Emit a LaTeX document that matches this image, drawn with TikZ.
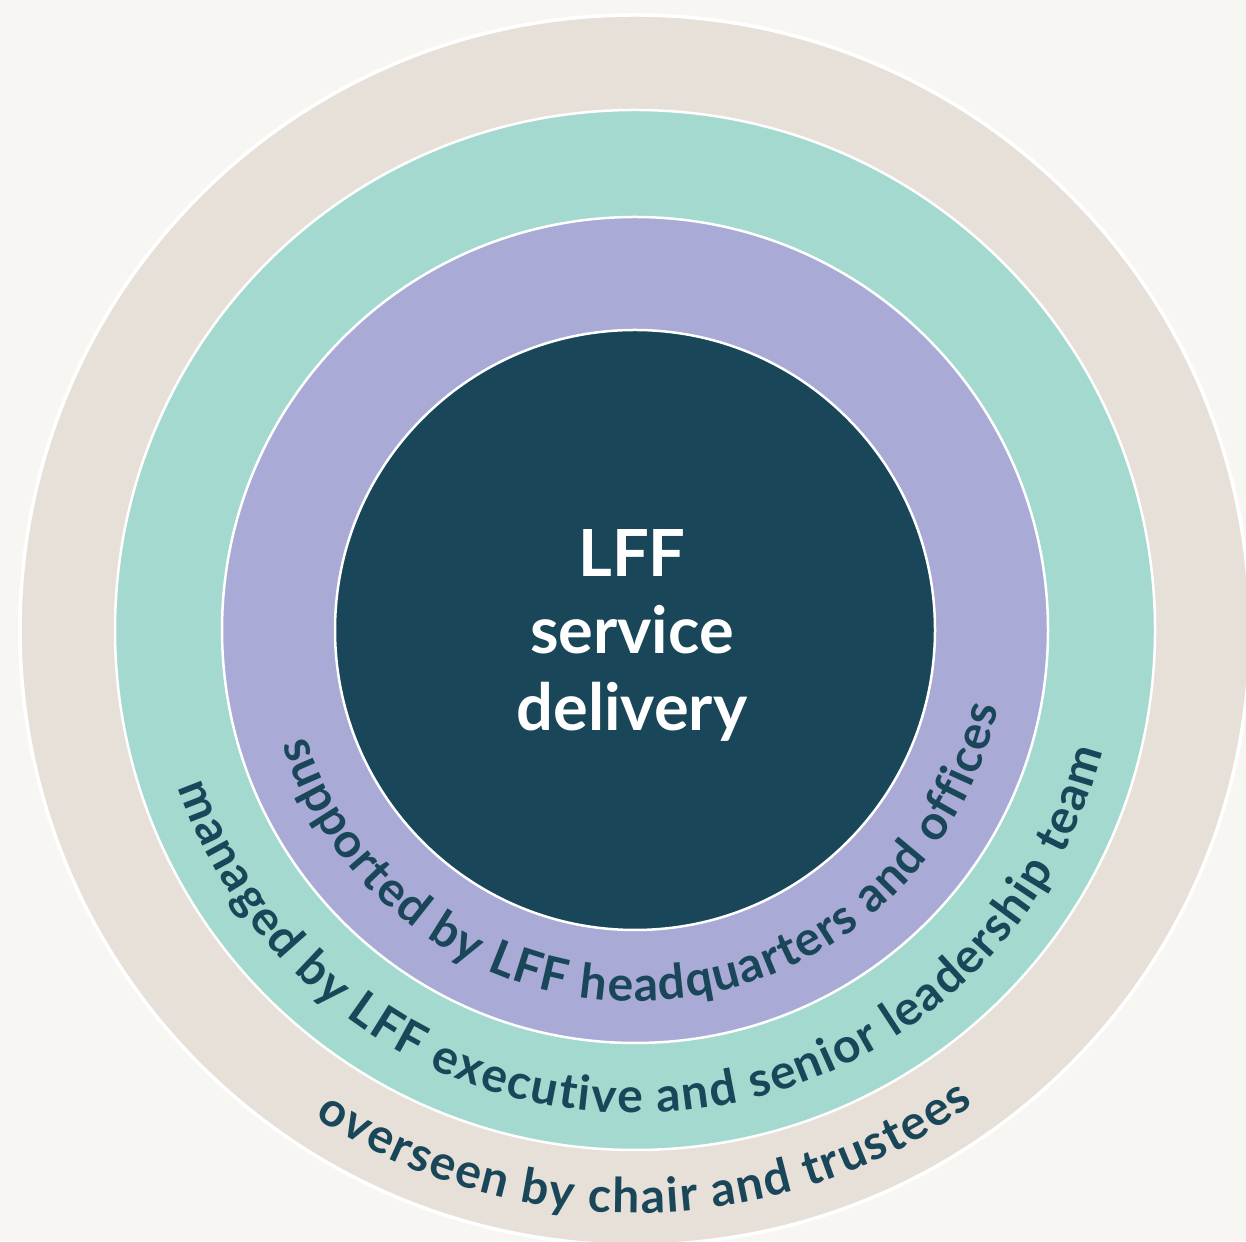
\documentclass[tikz,border=0pt]{standalone}
\usepackage{fontspec}
\setmainfont{Lato}
\usetikzlibrary{decorations.text,calc}
\definecolor{bgcol}{HTML}{F7F6F3}
\definecolor{beigecol}{HTML}{E7E0D9}
\definecolor{tealcol}{HTML}{A4D9CF}
\definecolor{lavcol}{HTML}{A9AAD6}
\definecolor{navycol}{HTML}{1A4659}
\newcommand\ringfont{\fontsize{48}{56}\selectfont\bfseries}
\newcommand\corefont{\fontsize{65}{78}\selectfont\bfseries}
\begin{document}
\begin{tikzpicture}[x=1pt,y=1pt,
  ring/.style={draw=white, line width=2.5pt},
  ringlabel/.style={decorate, decoration={text along path, text align={fit to path}, text color=navycol, text={|\ringfont|#1}}},
  corelabel/.style={text=white, font=\corefont, anchor=base, inner sep=0pt}]
\useasboundingbox (0,0) rectangle (1246,1241);
\clip (0,0) rectangle (1246,1241);
\fill[bgcol] (0,0) rectangle (1246,1241);
\coordinate (C) at (635,611);
\fill[beigecol, draw=white, line width=3.5pt] (C) circle[radius=615];
\fill[tealcol, ring] (C) circle[radius=520];
\fill[lavcol, ring] (C) circle[radius=413];
\fill[navycol, ring] (C) circle[radius=300];
\node[corelabel] (l1) at (632,664) {LFF};
\node[corelabel] (l2) at (632,587) {service};
\node[corelabel] (l3) at (632,510) {delivery};
\path[ringlabel={supported by LFF headquarters and offices}] ($(C)+(198:371)$) arc[start angle=198, end angle=348, radius=371];
\path[ringlabel={managed by LFF executive and senior leadership team}] ($(C)+(199:483)$) arc[start angle=199, end angle=345.5, radius=483];
\path[ringlabel={overseen by chair and trustees}] ($(C)+(236.7:583)$) arc[start angle=236.7, end angle=305.5, radius=583];
\end{tikzpicture}
\end{document}
